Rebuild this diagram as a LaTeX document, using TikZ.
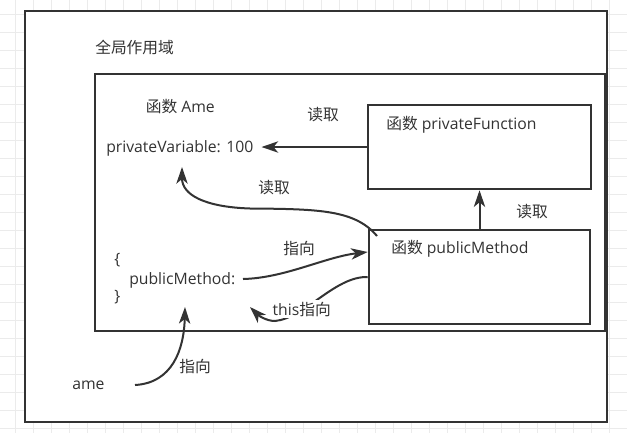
\documentclass[tikz,border=0pt]{standalone}
\usepackage{fontspec}
\setmainfont{Open Sans}
\newfontfamily\cjk{Noto Sans CJK SC}
\usetikzlibrary{arrows.meta,fit}
\definecolor{ink}{HTML}{333333}
\definecolor{gridc}{HTML}{EBEBEB}
\begin{document}
\begin{tikzpicture}[x=0.75pt,y=-0.75pt,
  txt/.style={inner sep=0pt,text=ink,font=\fontsize{11.8}{14}\selectfont},
  frame/.style={draw=ink,line width=1.9pt,fill=white,inner sep=0pt},
  arr/.style={draw=ink,line width=1.5pt,-{Stealth[length=12.5pt,width=8.5pt,inset=3.5pt]}},
  gridline/.style={draw=gridc,line width=0.75pt}]
\useasboundingbox (0,0) rectangle (627,433);
\fill[white] (0,0) rectangle (627,433);
\foreach \x in {15,33,...,627} \draw[gridline] (\x,0) -- (\x,433);
\foreach \y in {14,32,...,433} \draw[gridline] (0,\y) -- (627,\y);
% boxes
\coordinate (o1) at (25,11); \coordinate (o2) at (607,422);
\node[frame,fit=(o1)(o2)] (outer) {};
\coordinate (i1) at (95,74); \coordinate (i2) at (605.5,331);
\node[frame,fit=(i1)(i2)] (inner) {};
\coordinate (f1) at (368,105); \coordinate (f2) at (591,189);
\node[frame,fit=(f1)(f2)] (pf) {};
\coordinate (m1) at (369,230); \coordinate (m2) at (590,324);
\node[frame,fit=(m1)(m2)] (pm) {};
% texts
\node[txt,anchor=west] (tglob) at (95,47) {\cjk 全局作用域};
\node[txt,anchor=west] (tame) at (145.5,107) {{\cjk 函数} Ame};
\node[txt,anchor=west] (pv) at (106,148) {privateVariable: 100};
\node[txt,anchor=west] (rd1) at (307,115) {\cjk 读取};
\node[txt,anchor=west] (tpf) at (386,125) {{\cjk 函数} privateFunction};
\node[txt,anchor=west] (tpm) at (391,249) {{\cjk 函数} publicMethod};
\node[txt,anchor=west] (rd2) at (516,212) {\cjk 读取};
\node[txt,anchor=west] (rd3) at (258,188) {\cjk 读取};
\node[txt,anchor=west] (pt1) at (283,248) {\cjk 指向};
\node[txt,anchor=west] (bo) at (114,260) {\{};
\node[txt,anchor=west] (pmk) at (129,280) {publicMethod:};
\node[txt,anchor=west] (bc) at (114,297) {\}};
\node[txt,anchor=west] (ame) at (72,385) {ame};
\node[txt,anchor=west] (pt2) at (179,366) {\cjk 指向};
% connectors
\coordinate (c1e) at (261.5,147);
\draw[arr] (pf.west) -- (c1e);
\draw[arr] (pm.north) -- (pf.south);
\coordinate (c3s) at (377,236);
\coordinate (c3m) at (250,208.5);
\coordinate (c3e) at (182,167);
\draw[arr] (c3s) .. controls (355,210) and (320,209) .. (c3m)
  .. controls (205,207) and (182,195) .. (c3e);
\coordinate (c4s) at (243,279);
\draw[arr] (c4s) .. controls (285,278) and (325,257) .. ([yshift=18.75pt]pm.west);
\coordinate (c5m) at (275,321);
\coordinate (c5e) at (250,307);
\draw[arr] (pm.west) .. controls (335,276) and (305,318) .. (c5m)
  .. controls (266,321) and (258,315) .. (c5e);
\node[txt,anchor=west,fill=white,inner sep=1pt] (tthis) at (271,309) {this{\cjk 指向}};
\coordinate (c6s) at (135,385);
\coordinate (c6e) at (185,307);
\draw[arr] (c6s) .. controls (172,383) and (184,350) .. (c6e);
\end{tikzpicture}
\end{document}
